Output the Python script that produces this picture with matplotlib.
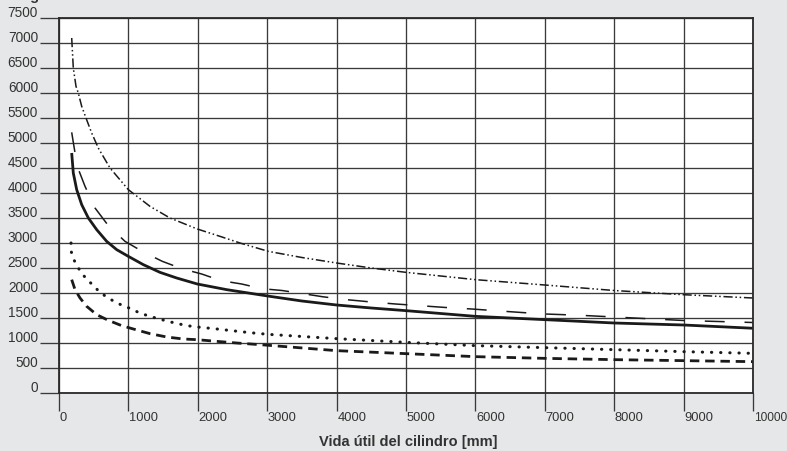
import matplotlib.pyplot as plt
from matplotlib.transforms import ScaledTranslation

plt.rcParams['font.family'] = ['Liberation Sans', 'DejaVu Sans']

# --- Data (load in kg vs. cylinder service life in mm) ---
x_ticks = list(range(0, 10001, 1000))
y_ticks = list(range(0, 7501, 500))

# dash-dot-dot curve (top)
x_a = [183, 206, 245, 278, 327, 389, 471, 566, 735, 999, 1311, 1599, 1993,
       2320, 2608, 3016, 3500, 4000, 4500, 5000, 6000, 7000, 8000, 9000, 10000]
y_a = [7100, 6500, 6133, 6000, 5733, 5500, 5200, 4900, 4500, 4067, 3733, 3500,
       3280, 3133, 3000, 2833, 2710, 2600, 2500, 2413, 2267, 2160, 2050, 1966,
       1900]

# long dashed curve
x_b = [183, 206, 263, 375, 519, 711, 951, 1215, 1489, 1768, 2056, 2334, 2632,
       2920, 3213, 3500, 3800, 4120, 4500, 4850, 5216, 5573, 5946, 6300, 6667,
       7003, 7500, 8000, 9000, 10000]
y_b = [5213, 5013, 4533, 4133, 3700, 3347, 3033, 2820, 2633, 2487, 2380, 2247,
       2180, 2087, 2050, 1990, 1925, 1870, 1820, 1780, 1745, 1710, 1680, 1645,
       1610, 1580, 1555, 1520, 1450, 1410]

# solid curve
x_c = [183, 206, 255, 327, 423, 543, 687, 831, 990, 1215, 1455, 1696, 1993,
       2416, 3040, 3500, 4000, 4500, 5000, 6000, 7000, 8000, 9000, 10000]
y_c = [4800, 4400, 4067, 3767, 3500, 3267, 3033, 2867, 2740, 2567, 2413, 2300,
       2180, 2067, 1933, 1840, 1760, 1700, 1647, 1533, 1467, 1400, 1360, 1295]

# dotted curve
x_d = [173, 178, 221, 288, 365, 457, 552, 653, 768, 889, 1009, 1134, 1263,
       1393, 1518, 1648, 1777, 1912, 2041, 2233, 2488, 2750, 3015, 4000, 5000,
       6000, 7000, 8000, 9000, 10000]
y_d = [3000, 2820, 2647, 2480, 2333, 2200, 2067, 1953, 1853, 1767, 1700, 1620,
       1553, 1500, 1453, 1407, 1367, 1333, 1313, 1287, 1247, 1207, 1173, 1087,
       1013, 947, 907, 867, 827, 793]

# short thick dashed curve (bottom)
x_e = [183, 231, 303, 399, 543, 711, 903, 1071, 1311, 1552, 1791, 1984, 2272,
       2560, 2896, 4000, 5000, 6000, 7000, 8000, 9000, 10000]
y_e = [2267, 2067, 1900, 1733, 1567, 1453, 1347, 1280, 1187, 1120, 1080, 1067,
       1033, 1000, 967, 847, 787, 727, 693, 667, 647, 627]

BG = '#e6e7e8'
GRID = '#3a3a3a'
INK = '#1a1a1a'
TXT = '#333333'

fig = plt.figure(figsize=(7.87, 4.52), dpi=100, facecolor=BG)
ax = fig.add_axes([59 / 787, 1 - 394 / 452, 694 / 787, 375 / 452])
ax.set_facecolor('white')
ax.set_xlim(0, 10000)
ax.set_ylim(0, 7500)

ax.plot(x_a, y_a, color=INK, lw=1.1, linestyle=(0, (6, 1.8, 1, 1.8, 1, 1.8)))
ax.plot(x_b, y_b, color=INK, lw=1.1, linestyle=(0, (13, 13)))
ax.plot(x_c, y_c, color=INK, lw=2.0, solid_capstyle='butt')
ax.plot(x_d, y_d, color=INK, lw=2.2, linestyle=(0, (0.1, 2.9)),
        dash_capstyle='round')
ax.plot(x_e, y_e, color=INK, lw=2.0, linestyle=(0, (3.4, 2.1)))

# Grid and long outward ticks
ax.grid(True, color=GRID, lw=0.95)
ax.set_axisbelow(True)
for s in ax.spines.values():
    s.set_color('#2a2a2a')
    s.set_linewidth(1.3)

ax.set_xticks(x_ticks)
ax.set_yticks(y_ticks)
ax.set_xticklabels([str(v) for v in x_ticks], ha='left')
ax.set_yticklabels([str(v) for v in y_ticks], va='baseline')
ax.tick_params(axis='y', length=13.7, width=0.95, color=GRID, pad=1.5,
               labelsize=9.8, labelcolor=TXT)
ax.tick_params(axis='x', length=13, width=0.95, color=GRID, pad=-0.3,
               labelsize=9.3, labelcolor=TXT)

up = ScaledTranslation(0, 1.2 / 72, fig.dpi_scale_trans)
for t in ax.yaxis.get_major_ticks():
    t.label1.set_transform(t.label1.get_transform() + up)
right = ScaledTranslation(0.5 / 72, 0, fig.dpi_scale_trans)
for t in ax.xaxis.get_major_ticks():
    t.label1.set_transform(t.label1.get_transform() + right)
# the last label sits against the right edge of the figure
ax.get_xticklabels()[-1].set_fontsize(8.6)

fig.text(408 / 787, 1 - 446 / 452, 'Vida útil del cilindro [mm]',
         ha='center', va='baseline', fontsize=10.5, fontweight='bold',
         color=TXT)
fig.text(22 / 787, 1.0, 'kg', ha='left', va='baseline', fontsize=10.5,
         fontweight='bold', color=TXT)

fig.savefig('out.png', dpi=100, facecolor=BG)
